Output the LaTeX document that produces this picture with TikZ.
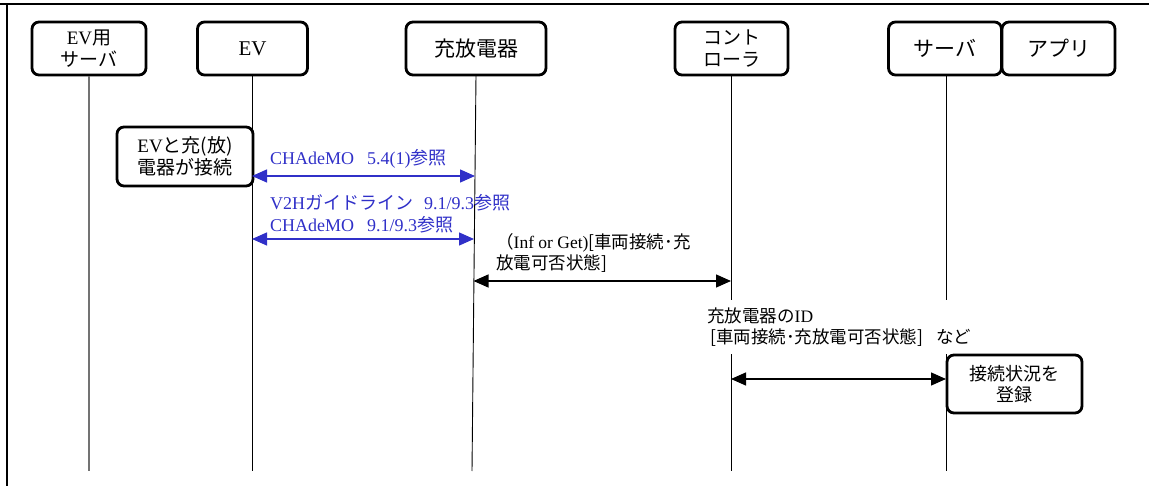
\documentclass[tikz,border=0pt]{standalone}
\usepackage{fontspec}
\setmainfont{Liberation Serif}
\newfontfamily\jpf{Noto Sans CJK JP}
\usetikzlibrary{arrows.meta}
\newcommand{\J}[1]{{\jpf #1}}
\definecolor{refblue}{RGB}{48,48,200}
\begin{document}
\begin{tikzpicture}[x=1pt,y=-1pt,
  actor/.style={draw, line width=2.8pt, rounded corners=7pt, align=center, inner sep=0pt,
    font=\fontsize{21}{22}\selectfont},
  actortwo/.style={actor, font=\fontsize{19}{21.5}\selectfont},
  life/.style={line width=0.9pt},
  lifegray/.style={line width=2pt, gray!110},
  barrow/.style={line width=1.3pt, draw=refblue,
    {Triangle[length=15pt,width=13pt,fill=refblue]}-{Triangle[length=15pt,width=13pt,fill=refblue]}},
  karrow/.style={line width=1.3pt, draw=black,
    {Triangle[length=15pt,width=13pt]}-{Triangle[length=15pt,width=13pt]}},
  bluelbl/.style={inner sep=0pt, anchor=west, align=left, text=refblue,
    font=\fontsize{18}{22}\selectfont},
  blacklbl/.style={inner sep=0pt, anchor=west, align=left,
    font=\fontsize{17.5}{21}\selectfont}
]
\useasboundingbox (0,0) rectangle (1149,486);
% frame
\draw[line width=2.6pt] (0,4) -- (1149,4);
\draw[line width=2.6pt] (7,4) -- (7,486);

% actors
\node[actortwo, minimum width=114pt, minimum height=53pt] (evs) at (89,48.5)
  {EV\J{用}\\\J{サーバ}};
\node[actor, minimum width=110pt, minimum height=53pt] (ev) at (252.5,48.5) {EV};
\node[actor, minimum width=140pt, minimum height=53pt] (chg) at (476,48.5) {\J{充放電器}};
\node[actortwo, minimum width=113pt, minimum height=53pt] (ctl) at (731.5,48.5)
  {\J{コント}\\\J{ローラ}};
\node[actor, minimum width=113pt, minimum height=53pt] (srv) at (945,48.5) {\J{サーバ}};
\node[actor, minimum width=113pt, minimum height=53pt] (app) at (1058.5,48.5) {\J{アプリ}};

% lifeline ends
\coordinate (evsB) at (89,471);
\coordinate (evT) at (252,75);
\coordinate (evB) at (252,471);
\coordinate (chgT) at (476,75);
\coordinate (chgB) at (472,471);
\coordinate (ctlT) at (731,75);
\coordinate (ctlB) at (731,471);
\coordinate (srvT) at (946,75);
\coordinate (srvB) at (946,471);

\draw[lifegray] (evs.south) -- (evsB);
\draw[life] (evT) -- (evB);
\draw[life] (chgT) -- (chgB);
\draw[life] (ctlT) -- (ctlB);
\draw[life] (srvT) -- (srvB);

% connect event box
\node[actortwo, fill=white, minimum width=136pt, minimum height=59pt] (conn) at (185,156.5)
  {EV\J{と充(放)}\\\J{電器が接続}};

% blue arrows
\coordinate (a1l) at (252,176);
\coordinate (a1r) at (475,176);
\draw[barrow] (a1l) -- (a1r);
\node[bluelbl] (t1) at (270,159) {CHAdeMO\hspace{13pt}5.4(1)\J{参照}};

\coordinate (a2l) at (252,239);
\coordinate (a2r) at (474,239);
\draw[barrow] (a2l) -- (a2r);
\node[bluelbl] (t2) at (270,214)
  {V2H\J{ガイドライン}\hspace{11pt}9.1/9.3\J{参照}\\CHAdeMO\hspace{13pt}9.1/9.3\J{参照}};

% black arrow 3
\coordinate (a3l) at (473.5,281);
\coordinate (a3r) at (731,281);
\draw[karrow] (a3l) -- (a3r);
\node[blacklbl] (t3) at (496,253)
  {\J{（}Inf or Get)\J{[車両接続･充}\\\J{放電可否状態]}};

% label 4 (covers lifelines)
\node[blacklbl, fill=white, inner xsep=2pt, inner ysep=8pt] (t4) at (705,327)
  {\J{充放電器の}ID\\\J{\,[車両接続･充放電可否状態]\hspace{13pt}など}};

% black arrow 4
\coordinate (a4l) at (731,379);
\coordinate (a4r) at (946,379);
\draw[karrow] (a4l) -- (a4r);

% register box
\node[actortwo, fill=white, font=\fontsize{18}{21.5}\selectfont,
  minimum width=135pt, minimum height=58pt] (reg) at (1014.5,384)
  {\J{接続状況を}\\\J{登録}};
\end{tikzpicture}
\end{document}
